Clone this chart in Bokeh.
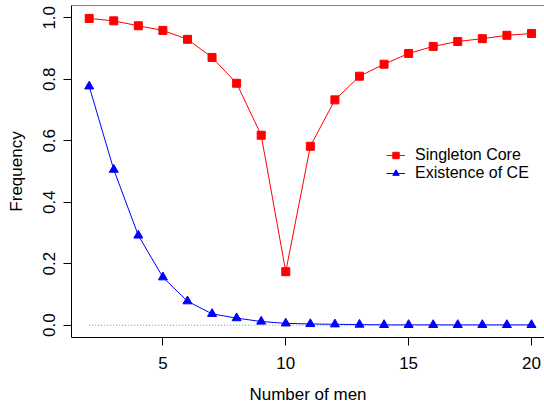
import numpy as np
from bokeh.plotting import figure
from bokeh.models import (Range1d, FixedTicker, PrintfTickFormatter, Span,
                          Legend, LegendItem)
from bokeh.embed import file_html
from bokeh.resources import INLINE

# ---- data ----
men = [2, 3, 4, 5, 6, 7, 8, 9, 10, 11, 12, 13, 14, 15, 16, 17, 18, 19, 20]
singleton_core = [0.998, 0.990, 0.974, 0.959, 0.930, 0.871, 0.787, 0.618, 0.174,
                  0.582, 0.733, 0.810, 0.849, 0.884, 0.907, 0.923, 0.932, 0.943, 0.949]
existence_ce = [0.777, 0.506, 0.292, 0.156, 0.078, 0.037, 0.023, 0.012, 0.006,
                0.004, 0.003, 0.002, 0.001, 0.001, 0.001, 0.001, 0.001, 0.001, 0.001]
x_ticks = [5, 10, 15, 20]
y_ticks = [0.0, 0.2, 0.4, 0.6, 0.8, 1.0]
series_names = ["Singleton Core", "Existence of CE"]
baseline = [0.0] * len(men)

FONT = "Liberation Sans"
FS = "17px"
LFS = "16px"

p = figure(width=544, height=406, output_backend="svg", toolbar_location=None,
           x_range=Range1d(1.28, 20.53), y_range=Range1d(-0.04, 1.04),
           min_border_left=71, min_border_right=0, min_border_top=5,
           min_border_bottom=68, margin=(0, 0, 0, 0))
p.outline_line_color = None
p.xgrid.visible = False
p.ygrid.visible = False
p.background_fill_color = "white"
p.border_fill_color = "white"

# dotted zero line
p.line(men, baseline, line_color="#888888", line_width=1, line_dash="1 2")

r1l = p.line(men, singleton_core, line_color="red", line_width=1)
r1m = p.scatter(men, singleton_core, marker="square", size=8, fill_color="red",
                line_color="red")
r2l = p.line(men, existence_ce, line_color="blue", line_width=1)
r2m = p.scatter(men, existence_ce, marker="triangle", size=9, fill_color="blue",
                line_color="blue")

top = Span(location=1.04, dimension="width", line_color="black", line_width=1)
p.add_layout(top)

for ax in (p.xaxis[0], p.yaxis[0]):
    ax.axis_line_color = "black"
    ax.major_tick_line_color = "black"
    ax.major_tick_out = 8
    ax.major_tick_in = 0
    ax.minor_tick_line_color = None
    ax.major_label_text_font = FONT
    ax.major_label_text_font_size = FS
    ax.major_label_text_color = "black"
    ax.axis_label_text_font = FONT
    ax.axis_label_text_font_size = FS
    ax.axis_label_text_font_style = "normal"
    ax.axis_label_text_color = "black"

p.xaxis.ticker = FixedTicker(ticks=x_ticks)
p.yaxis.ticker = FixedTicker(ticks=y_ticks)
p.yaxis.formatter = PrintfTickFormatter(format="%.1f")
p.yaxis.major_label_orientation = "vertical"
p.xaxis.axis_label = "Number of men"
p.yaxis.axis_label = "Frequency"
p.xaxis.major_label_standoff = 11
p.yaxis.major_label_standoff = 8
p.xaxis.axis_label_standoff = 13
p.yaxis.axis_label_standoff = 15

legend = Legend(items=[LegendItem(label=series_names[0], renderers=[r1l, r1m]),
                       LegendItem(label=series_names[1], renderers=[r2l, r2m])],
                location=(315, 155))
legend.label_text_font = FONT
legend.label_text_font_size = LFS
legend.label_text_color = "black"
legend.glyph_width = 19
legend.glyph_height = 16
legend.label_height = 16
legend.label_standoff = 10
legend.padding = 0
legend.margin = 0
legend.spacing = 0
legend.border_line_color = None
legend.background_fill_alpha = 0
p.add_layout(legend)

open("out.html", "w").write(file_html(p, INLINE))
